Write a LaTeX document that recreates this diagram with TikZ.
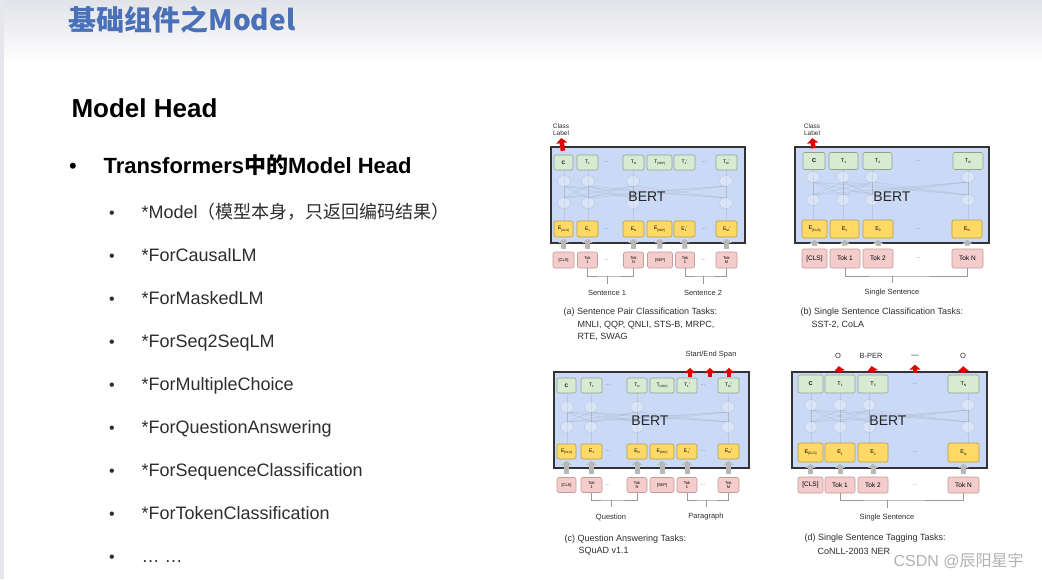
\documentclass[tikz,border=0pt]{standalone}
\usepackage{fontspec}
\setmainfont{Liberation Sans}
\newfontfamily\cjk{Noto Sans CJK SC}
\usetikzlibrary{arrows.meta}
\newcommand{\lblsub}[2]{#1\raisebox{-0.45ex}{\scalebox{0.6}{#2}}}
\definecolor{titleblue}{HTML}{4A70B7}
\definecolor{headgray}{HTML}{E2E3E8}
\definecolor{stripgray}{HTML}{E6E7EC}
\definecolor{textgray}{HTML}{2E2E2E}
\definecolor{bertblue}{HTML}{C9D9F6}
\definecolor{bertline}{HTML}{333333}
\definecolor{tgreen}{HTML}{D9EAD3}
\definecolor{tline}{HTML}{8FA58A}
\definecolor{eyellow}{HTML}{FFD966}
\definecolor{eline}{HTML}{B59A4A}
\definecolor{tokpink}{HTML}{F4CCCC}
\definecolor{tokline}{HTML}{C49A9A}
\definecolor{upgray}{HTML}{B8B8B8}
\definecolor{outred}{HTML}{E00000}
\tikzset{bertbox/.style={draw=bertline, line width=1.3pt, fill=bertblue}}
\tikzset{bertlabel/.style={font=\fontsize{14}{14}\selectfont, text=black!85}}
\tikzset{tbox/.style={draw=tline, fill=tgreen, rounded corners=2pt, line width=0.6pt, inner sep=0pt, font=\fontsize{5}{5}\selectfont}}
\tikzset{ebox/.style={tbox, draw=eline, fill=eyellow}}
\tikzset{kbox/.style={tbox, draw=tokline, fill=tokpink, align=center}}
\tikzset{dotstext/.style={font=\fontsize{6}{6}\selectfont, text=gray}}
\tikzset{tinytext/.style={font=\fontsize{7.5}{8}\selectfont, text=textgray}}
\tikzset{captext/.style={font=\fontsize{9}{10}\selectfont, text=textgray, anchor=west}}
\tikzset{itemtext/.style={font=\fontsize{18}{18}\selectfont, text=textgray, anchor=base west}}
\tikzset{grayup/.style={line width=5pt, upgray, -{Triangle[width=10pt,length=4pt]}, shorten <=3pt, shorten >=1.5pt}}
\tikzset{redup/.style={line width=4.5pt, outred, -{Triangle[width=11pt,length=5pt]}}}
\tikzset{bracket/.style={draw=gray!80, line width=0.7pt}}
\tikzset{ghost/.style={draw=gray, fill=white, draw opacity=0.25, fill opacity=0.3}}
\tikzset{ghostline/.style={draw=gray, opacity=0.2, line width=0.5pt}}

\begin{document}
\begin{tikzpicture}[x=1pt,y=-1pt]
\useasboundingbox (0,0) rectangle (1042,579);
\fill[white] (0,0) rectangle (1042,579);
\shade[top color=headgray, bottom color=white!94!headgray] (0,0) rectangle (1042,60);
\fill[stripgray] (0,0) rectangle (4,579);

% title and list
\node[anchor=base west, text=titleblue, font=\cjk\bfseries\fontsize{28}{28}\selectfont] (title) at (65,30) {基础组件之Model};
\node[anchor=base west, font=\bfseries\fontsize{26}{26}\selectfont] (head) at (68,117) {Model Head};
\node[anchor=base, font=\fontsize{22}{22}\selectfont] (mainbul) at (73,173) {•};
\node[anchor=base west, font=\bfseries\fontsize{22}{22}\selectfont] (main) at (100,173) {Transformers{\cjk 中的}Model Head};
\foreach \t [count=\i] in {{*Model{\cjk （模型本身，只返回编码结果）}}, *ForCausalLM, *ForMaskedLM, *ForSeq2SeqLM, *ForMultipleChoice, *ForQuestionAnswering, *ForSequenceClassification, *ForTokenClassification, {\ldots\ \ldots}}
{
  \node[itemtext, anchor=base, font=\fontsize{16}{16}\selectfont] (bul\i) at (112,{218+43*(\i-1)}) {•};
  \node[itemtext] (item\i) at (138,{218+43*(\i-1)}) {\t};
}

% (a) sentence pair classification
\draw[bertbox] (551,147) rectangle (745,243);
\foreach \x in {564,588,633,726} \draw[ghostline] (\x,170) -- (\x,221);
\foreach \x in {564,588,633,726} \foreach \z in {564,588,633,726} \draw[ghostline] (\x,186) -- (\z,198);
\foreach \x in {564,588,633,726} {\draw[ghost] (\x,181) ellipse (6.5 and 5.5); \draw[ghost] (\x,203) ellipse (6.5 and 5.5);}
\node[bertlabel] (abert) at (647,197) {BERT};
\foreach \c/\x/\w/\t in {0/563.5/19/\textbf{C}, 1/587.5/21/\lblsub{T}{1}, N/633.5/21/\lblsub{T}{N}, S/659.5/25/\lblsub{T}{[SEP]}, 1p/684.5/21/\lblsub{T}{1}', Mp/726.5/21/\lblsub{T}{M}'}
  \node[tbox, minimum width=\w pt, minimum height=15pt] (aT\c) at (\x,162.5) {\t};
\foreach \c/\x/\w/\t in {0/563.5/19/\lblsub{E}{[CLS]}, 1/587.5/21/\lblsub{E}{1}, N/633.5/21/\lblsub{E}{N}, S/659.5/25/\lblsub{E}{[SEP]}, 1p/684.5/21/\lblsub{E}{1}', Mp/726.5/21/\lblsub{E}{M}'}
  \node[ebox, minimum width=\w pt, minimum height=16pt] (aE\c) at (\x,229) {\t};
\foreach \c/\x/\w/\t in {0/563.5/21/[CLS], 1/587.5/20/Tok\\1, N/633.5/20/Tok\\N, S/660/25/[SEP], 1p/685/19/Tok\\1, Mp/726.5/21/Tok\\M}
  \node[kbox, minimum width=\w pt, minimum height=16pt, font=\fontsize{4}{4.5}\selectfont] (aK\c) at (\x,260) {\t};
\foreach \r/\y in {T/162.5, E/229, K/260}
{
  \node[dotstext] (adot\r1) at (606,\y) {...};
  \node[dotstext] (adot\r2) at (704,\y) {...};
}
\foreach \c in {0,1,N,S,1p,Mp} \draw[grayup] (aK\c.north) -- (aE\c.south);
\node[tinytext, align=center, inner sep=1pt, font=\fontsize{6.5}{7}\selectfont] (aclass) at (561,130) {Class\\Label};
\draw[redup, shorten <=4pt, shorten >=1pt] (aT0.north) -- (aclass.south);
\node[tinytext] (asent1) at (607,293) {Sentence 1};
\node[tinytext] (asent2) at (703,293) {Sentence 2};
\coordinate (abar1) at (607,276);
\coordinate (abar2) at (703,276);
\draw[bracket] (aK1.south) |- (abar1) -| (aKN.south);
\draw[bracket] (aK1p.south) |- (abar2) -| (aKMp.south);
\draw[bracket, shorten >=3pt] (abar1) -- (asent1.north);
\draw[bracket, shorten >=3pt] (abar2) -- (asent2.north);
\node[captext] (acap1) at (560,312) {(a) Sentence Pair Classification Tasks:};
\node[captext] (acap2) at (574,325) {MNLI, QQP, QNLI, STS-B, MRPC,};
\node[captext] (acap3) at (574,337) {RTE, SWAG};

% (b) single sentence classification
\draw[bertbox] (795,147) rectangle (989,243);
\foreach \x in {813,843,872,968} \draw[ghostline] (\x,170) -- (\x,220);
\foreach \x in {813,843,872,968} \foreach \z in {813,843,872,968} \draw[ghostline] (\x,182) -- (\z,195);
\foreach \x in {813,843,872,968} {\draw[ghost] (\x,177) ellipse (6.5 and 5.5); \draw[ghost] (\x,200) ellipse (6.5 and 5.5);}
\node[bertlabel] (bbert) at (892,197) {BERT};
\foreach \c/\x/\w/\t in {0/814/22/\textbf{C}, 1/843.5/29/\lblsub{T}{1}, 2/877.5/29/\lblsub{T}{2}, N/968/30/\lblsub{T}{N}}
  \node[tbox, minimum width=\w pt, minimum height=17pt, font=\fontsize{5.5}{5.5}\selectfont] (bT\c) at (\x,161) {\t};
\foreach \c/\x/\w/\t in {0/814.5/25/\lblsub{E}{[CLS]}, 1/844.5/29/\lblsub{E}{1}, 2/878/30/\lblsub{E}{2}, N/967/30/\lblsub{E}{N}}
  \node[ebox, minimum width=\w pt, minimum height=18pt, font=\fontsize{5.5}{5.5}\selectfont] (bE\c) at (\x,229) {\t};
\foreach \c/\x/\w/\t in {0/814.5/25/[CLS], 1/845/30/Tok 1, 2/878/30/Tok 2, N/967.5/31/Tok N}
  \node[kbox, minimum width=\w pt, minimum height=19pt, font=\fontsize{6.5}{6.5}\selectfont] (bK\c) at (\x,258.5) {\t};
\foreach \r/\y in {T/161, E/229, K/258.5} \node[dotstext] (bdot\r) at (918,\y) {...};
\foreach \c in {0,1,2,N} \draw[grayup] (bK\c.north) -- (bE\c.south);
\node[tinytext, align=center, inner sep=1pt, font=\fontsize{6.5}{7}\selectfont] (bclass) at (812,130) {Class\\Label};
\draw[redup, shorten <=4pt, shorten >=1pt] (bT0.north) -- (bclass.south);
\node[tinytext] (bsent) at (892,293) {Single Sentence};
\coordinate (bbar) at (892,276);
\draw[bracket] (bK1.south) |- (bbar) -| (bKN.south);
\draw[bracket, shorten >=3pt] (bbar) -- (bsent.north);
\node[captext] (bcap1) at (797,312) {(b) Single Sentence Classification Tasks:};
\node[captext] (bcap2) at (808,325) {SST-2, CoLA};

% (c) question answering
\draw[bertbox] (554,372) rectangle (749,468);
\foreach \x in {567,591,637,728} \draw[ghostline] (\x,393) -- (\x,444);
\foreach \x in {567,591,637,728} \foreach \z in {567,591,637,728} \draw[ghostline] (\x,412) -- (\z,422);
\foreach \x in {567,591,637,728} {\draw[ghost] (\x,407) ellipse (6.5 and 5.5); \draw[ghost] (\x,427) ellipse (6.5 and 5.5);}
\node[bertlabel] (cbert) at (650,421) {BERT};
\foreach \c/\x/\w/\t in {0/566.5/19/\textbf{C}, 1/591.5/21/\lblsub{T}{1}, N/637/20/\lblsub{T}{N}, S/662/24/\lblsub{T}{[SEP]}, 1p/687/20/\lblsub{T}{1}', Mp/728.5/21/\lblsub{T}{M}'}
  \node[tbox, minimum width=\w pt, minimum height=15pt] (cT\c) at (\x,385.5) {\t};
\foreach \c/\x/\w/\t in {0/566.5/19/\lblsub{E}{[CLS]}, 1/591.5/21/\lblsub{E}{1}, N/637/20/\lblsub{E}{N}, S/662/24/\lblsub{E}{[SEP]}, 1p/687/20/\lblsub{E}{1}', Mp/728.5/21/\lblsub{E}{M}'}
  \node[ebox, minimum width=\w pt, minimum height=15pt] (cE\c) at (\x,451.5) {\t};
\foreach \c/\x/\w/\t in {0/566.5/19/[CLS], 1/591.5/21/Tok\\1, N/637/20/Tok\\N, S/662/24/[SEP], 1p/687/20/Tok\\1, Mp/728.5/21/Tok\\M}
  \node[kbox, minimum width=\w pt, minimum height=15pt, font=\fontsize{4}{4.5}\selectfont] (cK\c) at (\x,485) {\t};
\foreach \r/\y in {T/385.5, E/451.5, K/485}
{
  \node[dotstext] (cdot\r1) at (608,\y) {...};
  \node[dotstext] (cdot\r2) at (703,\y) {...};
}
\foreach \c in {0,1,N,S,1p,Mp} \draw[grayup] (cK\c.north) -- (cE\c.south);
\node[tinytext] (cspan) at (711,355) {Start/End Span};
\coordinate (cspan1) at (690,368);
\coordinate (cspan2) at (710,368);
\coordinate (cspan3) at (729,368);
\draw[redup, shorten <=1pt] (cT1p.north -| cspan1) -- (cspan1);
\draw[redup, shorten <=1pt] (cT1p.north -| cspan2) -- (cspan2);
\draw[redup, shorten <=1pt] (cTMp.north -| cspan3) -- (cspan3);
\node[tinytext] (cquest) at (611,517) {Question};
\node[tinytext] (cpara) at (706,517) {Paragraph};
\coordinate (cbar1) at (611,500);
\coordinate (cbar2) at (706,500);
\draw[bracket] (cK1.south) |- (cbar1) -| (cKN.south);
\draw[bracket] (cK1p.south) |- (cbar2) -| (cKMp.south);
\draw[bracket, shorten >=3pt] (cbar1) -- (cquest.north);
\draw[bracket, shorten >=3pt] (cbar2) -- (cpara.north);
\node[captext] (ccap1) at (561,539) {(c) Question Answering Tasks:};
\node[captext] (ccap2) at (575,551) {SQuAD v1.1};

% (d) single sentence tagging
\draw[bertbox] (792,372) rectangle (987,468);
\foreach \x in {811,840,869,968} \draw[ghostline] (\x,393) -- (\x,443);
\foreach \x in {811,840,869,968} \foreach \z in {811,840,869,968} \draw[ghostline] (\x,410) -- (\z,422);
\foreach \x in {811,840,869,968} {\draw[ghost] (\x,405) ellipse (6.5 and 5.5); \draw[ghost] (\x,427) ellipse (6.5 and 5.5);}
\node[bertlabel] (dbert) at (888,421) {BERT};
\foreach \c/\x/\w/\t in {0/810.5/25/\textbf{C}, 1/840/30/\lblsub{T}{1}, 2/873/30/\lblsub{T}{2}, N/963.5/31/\lblsub{T}{N}}
  \node[tbox, minimum width=\w pt, minimum height=18pt, font=\fontsize{5.5}{5.5}\selectfont] (dT\c) at (\x,384) {\t};
\foreach \c/\x/\w/\t in {0/810.5/25/\lblsub{E}{[CLS]}, 1/840/30/\lblsub{E}{1}, 2/873/30/\lblsub{E}{2}, N/963.5/31/\lblsub{E}{N}}
  \node[ebox, minimum width=\w pt, minimum height=19pt, font=\fontsize{5.5}{5.5}\selectfont] (dE\c) at (\x,452.5) {\t};
\foreach \c/\x/\w/\t in {0/810.5/25/[CLS], 1/840/30/Tok 1, 2/873/30/Tok 2, N/963.5/31/Tok N}
  \node[kbox, minimum width=\w pt, minimum height=16pt, font=\fontsize{6.5}{6.5}\selectfont] (dK\c) at (\x,485) {\t};
\foreach \r/\y in {T/384, E/452.5, K/485} \node[dotstext] (ddot\r) at (915,\y) {...};
\foreach \c in {0,1,2,N} \draw[grayup] (dK\c.north) -- (dE\c.south);
\node[tinytext] (dlab1) at (838,356) {O};
\node[tinytext] (dlab2) at (871,356) {B-PER};
\node[tinytext] (dlab3) at (915,356) {---};
\node[tinytext] (dlab4) at (963,356) {O};
\draw[redup, shorten <=2pt, shorten >=4pt] (dT1.north) -- (dlab1.south);
\draw[redup, shorten <=2pt, shorten >=4pt] (dT2.north) -- (dlab2.south);
\draw[redup, shorten <=2pt, shorten >=4pt] (ddotT.north |- dT2.north) -- (dlab3.south);
\draw[redup, shorten <=2pt, shorten >=4pt] (dTN.north) -- (dlab4.south);
\node[tinytext] (dsent) at (887,518) {Single Sentence};
\coordinate (dbar) at (887,500);
\draw[bracket] (dK1.south) |- (dbar) -| (dKN.south);
\draw[bracket, shorten >=3pt] (dbar) -- (dsent.north);
\node[captext] (dcap1) at (801,538) {(d) Single Sentence Tagging Tasks:};
\node[captext] (dcap2) at (814,551) {CoNLL-2003 NER};

% watermark
\node[anchor=west, text=gray!60, font=\fontsize{16}{16}\selectfont] (mark) at (890,561) {CSDN @{\cjk 辰阳星宇}};
\end{tikzpicture}
\end{document}
